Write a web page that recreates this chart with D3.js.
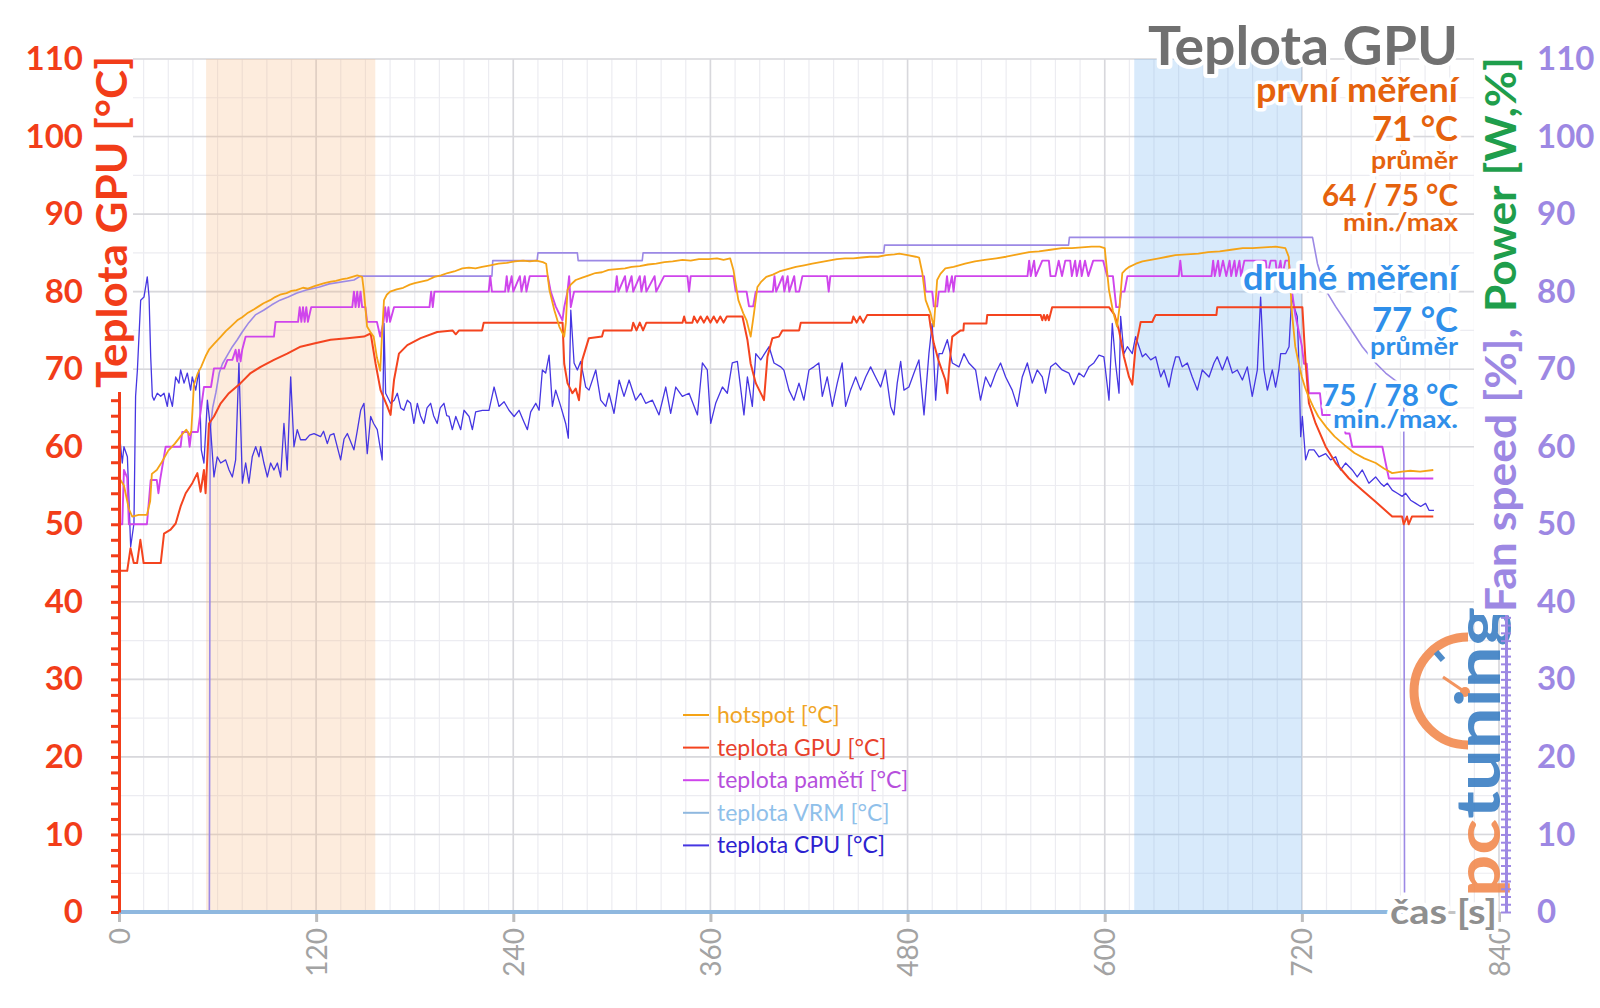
<!DOCTYPE html>
<html>
<head>
<meta charset="utf-8">
<script src="https://cdn.jsdelivr.net/npm/d3@7"></script>
<style>
body { margin: 0; background: #fff; }
svg { display: block; font-family: Lato, "Open Sans", sans-serif; }
</style>
</head>
<body>
<svg id="chart" width="1600" height="1008"></svg>
<script>
// Axis ticks
const xTicks = [0, 120, 240, 360, 480, 600, 720, 840];
const yTicks = [0, 10, 20, 30, 40, 50, 60, 70, 80, 90, 100, 110];

// Shaded measuring windows [from, to] in seconds
const firstWindow = [53, 156];
const secondWindow = [618, 720];

// Series: [time s, value]
const hotspot = [
    [0,56],[3,55],[6,52],[8,51],[12,51.2],[17,51.2],[19,53],[20,56.5],[23,57],[26,58],[30,59.5],[34,60.4],
    [38,61.5],[41,62.2],[43,61.5],[44,62],[45.6,68],[48,69.5],[50,70.3],[53,71.8],[55,72.6],[58,73.3],[62,74.2],
    [65,74.9],[68,75.5],[72,76.3],[75,76.7],[78,77.2],[82,77.7],[85,78.1],[88,78.5],[92,78.9],[95,79.3],[98,79.6],
    [102,79.8],[105,80.1],[108,80.2],[112,80.5],[115,80.4],[119,80.7],[122,80.9],[125,81.1],[129,81.3],[132,81.4],
    [136,81.6],[139,81.7],[142,81.9],[145,82.1],[148,81.9],[149,80.2],[151,75.5],[153,74.8],[155,74.2],[157,71.5],
    [159,69.8],[160,74],[161.3,78.9],[163,79.6],[165,80],[169,80.3],[173,80.5],[177,80.9],[180,81.1],[184,81.3],
    [188,81.5],[192,81.9],[196,82.1],[200,82.4],[204,82.6],[209,83],[213,83.1],[217,83],[221,83.2],[226,83.4],
    [231,83.6],[236,83.7],[241,83.9],[246,84],[250,83.9],[254,84],[258,83.8],[260,83.6],[262,80.2],[265,77.6],
    [268,75.5],[271,74.2],[272,76],[273,80.2],[275,80.9],[278,81.5],[282,81.8],[286,82.1],[290,82.4],[294,82.5],
    [298,82.8],[303,82.9],[308,83],[312,83.2],[317,83.3],[322,83.5],[327,83.6],[332,83.8],[337,83.9],[343,84.1],
    [348,84],[353,84.2],[359,84.2],[364,84.3],[368,84.1],[372,84.3],[374,82.8],[377,78.9],[380,77.2],[382,76.3],
    [384.5,74.2],[386.5,77.2],[388.6,80.6],[391,81.3],[394,81.9],[398,82.2],[402,82.6],[407,82.9],[412,83.2],
    [417,83.4],[422,83.6],[427,83.8],[432,84],[437,84.2],[442,84.3],[447,84.3],[452,84.4],[457,84.5],[462,84.5],
    [467,84.7],[472,84.8],[475,84.9],[480,84.7],[485,84.5],[487,84.4],[489,82.4],[491,78.9],[494,77.2],[496,75.5],
    [498,81.5],[500,82.3],[503,83],[508,83.2],[515,83.6],[521,83.9],[527,84.1],[534,84.3],[540,84.5],[547,84.8],
    [554,85.1],[560,85.2],[567,85.4],[574,85.6],[580,85.6],[586,85.7],[592,85.8],[597,85.8],[600,85.6],[602.6,80.2],
    [605,77.5],[607.5,75.5],[609,78],[610.7,82.4],[613,82.9],[615,83.2],[619,83.6],[623,83.9],[628,84.1],[633,84.3],
    [638,84.5],[643,84.7],[650,84.8],[657,84.9],[663,85.1],[670,85.2],[677,85.4],[684,85.6],[690,85.6],[697,85.7],
    [704,85.8],[710,85.6],[712,84.5],[714,77.2],[716,72.9],[718,70.8],[720,69],[722,67.6],[724,66.5],[727,65.1],
    [730,63.9],[735,62.5],[740,61.3],[746,60.2],[752,59.2],[758,58.5],[765,57.9],[770,57.2],[775,56.6],[781,56.8],
    [786,56.9],[792,56.8],[800,57]
];

const gpuTemp = [
    [0,44],[5,44],[7,46.9],[9,45],[11,45],[13,48],[15,45],[25.4,45],[27.4,48.8],[31.4,49.3],[34.5,50.1],[37.5,52.3],
    [40.6,54],[44.6,55.3],[47.7,56.6],[49.7,54.2],[51.7,57],[52.7,54],[54.8,63],[57.8,63.9],[61.9,65.6],[66.9,66.9],
    [74,68.2],[80.1,69.5],[86.2,70.3],[94.3,71.2],[102.4,72],[110.5,72.9],[118.7,73.3],[128.8,73.8],[139,74],
    [149.1,74.2],[153.2,74.6],[156.2,70.7],[159.2,67.3],[163.3,65.2],[165.3,64.1],[167.4,68.6],[170.4,72],
    [175.5,73.1],[183.6,74],[193.7,74.8],[203,75],[205,74.5],[207,75],[221,75],[222,76],[270,76],[271,70.7],
    [273,68.2],[276,66.9],[278,67.5],[280,66],[282,71.2],[286,74],[294,74.2],[295,75],[312,75],[313,76],[315,75],
    [317,76],[319,75],[321,76],[343,76],[344,76.8],[345,76],[349,76],[350,76.8],[352,76],[354,76.8],[356,76],
    [358,76.8],[360,76],[362,76.8],[364,76],[366,76.8],[368,76],[370,76.8],[379.5,76.8],[382.5,73.8],[384.5,70.7],
    [387.6,68.2],[391.6,66.5],[392.6,66],[394.7,71.6],[397.7,74],[401.7,74.2],[403.8,75],[414,75],[415,76],
    [446,76],[447,76.8],[449,76],[451,76.8],[453,76],[455.5,77],[493,77],[494,75.5],[496,73.3],[499,71],
    [503,68.6],[504.2,66.9],[505.2,69.9],[507.2,74.2],[512.3,75],[514,75],[514.3,75.9],[528,75.9],[528.5,77],
    [561,77],[562,76.3],[563,77],[564,76.3],[565,77],[566,76.3],[568,78],[602.6,78],[606,77],[608.7,75],
    [611.7,71.6],[614.8,69],[616.8,68],[618.8,72.9],[620.9,75],[621.9,76.1],[629,76.1],[630,76.6],[631,77],
    [668,77],[668.5,78],[720.3,78],[722.3,70.7],[724.3,65.6],[728.4,63],[734.5,60],[740.6,57.9],[748.7,55.9],
    [756.8,54.4],[764.9,52.9],[775,51],[781,51],[782,50],[784,51],[785,50],[787,51],[800,51]
];

const memTemp = [
    [0,50],[2,50],[3,57],[5,56],[6,50],[17,50],[19.3,55.7],[23,55.7],[24,54],[25,55.7],[28.4,60],[37.5,60],
    [38.5,61.9],[42,61.9],[43,60],[44,61.9],[48,61.9],[51.7,67.7],[56,67.7],[57.8,70.1],[64,70.1],[66,71.2],
    [69,71.2],[71,72.5],[72,71],[73,72.5],[74,71],[75,72.5],[77.1,74.2],[94.3,74.2],[95.3,76.1],[109,76.1],
    [110,78],[111,76.1],[112,78],[113,76.1],[114,78],[115,76.1],[117,78],[142,78],[143,80],[144,78],[145,80],
    [146,78],[147,80],[148,78],[150,78],[151,76.1],[157,76.1],[159,74.2],[161,76.1],[162,78],[163,76.1],[164,78],
    [165,76.1],[167.4,78],[189,78],[190,80],[191,78],[192,80],[225,80],[226,82],[227,80],[235,80],[236,82],
    [237,80],[239,82],[240,80],[244,82],[245,80],[247,82],[248,80],[250,82],[261,82],[262.8,80],[265.8,78.1],
    [269.9,76.3],[271,78],[273,80],[274,82],[275,78],[277,80],[302,80],[303,82],[304,80],[308,82],[309,80],
    [312,82],[313,80],[317,82],[318,80],[320,82],[321,80],[326,82],[327,80],[331.8,82],[346,82],[347,80],
    [348,82],[374,82],[375.4,80],[382,80],[383.5,78.1],[386,78.1],[387.6,80],[398,80],[399,82],[400,80],
    [404,82],[405,80],[407,82],[408,80],[411,82],[412,80],[414,80],[416,82],[431,82],[432,80],[433,82],[490,82],
    [491,80],[495,80],[496,78.1],[498,78.1],[499,80],[503,80],[504,82],[505,80],[507,82],[508,80],[509,82],
    [553,82],[554,84],[555,82],[557,84],[558,82],[562,84],[566,84],[567,82],[570,82],[572,84],[574,82],[576,84],
    [579,84],[580,82],[582,84],[583,82],[585,84],[586,82],[588,84],[590,82],[593,84],[599,84],[601.5,82],
    [605,82],[606,80],[607,78],[609,78],[610,80],[612,80],[613.8,82],[645,82],[646,84],[647,82],[665,82],
    [666,84],[667,82],[669,84],[670,82],[672,84],[674,82],[676,84],[677,82],[679,84],[680,82],[682,84],[683,82],
    [685,84],[698,84],[699,82],[701,84],[704,84],[705,82],[707,84],[708,82],[710,84],[712,84],[713,82],[714,80],
    [716,77],[718,75],[720,73],[721.3,70.7],[723,70.7],[724.3,66.9],[731,66.9],[732.4,64.1],[744,64.1],
    [746.6,61.7],[749,61.7],[750.7,60],[769,60],[771,57.9],[773,55.9],[800,55.9]
];

const vrmTemp = [[0,0],[800,0]];

const cpuTemp = [
    [0,62.2],[2,57.9],[3,60],[5.1,58.7],[7.1,47.1],[9.1,50.1],[10.1,66.5],[11.2,69.9],[13.2,78.9],[15.2,79.3],
    [17.2,81.9],[18.3,79.3],[19.3,71.6],[20.3,66.5],[21.3,66],[23.3,66.9],[25.4,66.5],[27.4,66.9],[29.4,65.2],
    [30.4,66.9],[32.5,65.2],[34.5,69],[36.5,68.2],[37.5,69.9],[39.6,68.2],[41.6,69.5],[43.6,67.3],[44.6,69],
    [46.7,67.3],[48.7,69.9],[50.1,59.6],[51.7,57.9],[53.8,66],[55.8,62.2],[57.8,56.1],[59.8,58.7],[61.9,57.9],
    [64.9,58.3],[67,57],[69,56.1],[71,58.3],[73,70.8],[75.1,55.3],[77.1,57.9],[79.1,55.3],[81.1,58.7],[83.2,60],
    [85.2,58.7],[86.2,60],[88.2,57.9],[90.3,56.1],[92.3,57.9],[94.3,57],[96.4,57.9],[98.4,56.1],[100.4,63],
    [102.4,57],[104.5,69],[106.5,60],[108.5,62.2],[110.5,60.9],[113.6,60.9],[116,61.5],[118.7,61.7],[122.7,61.3],
    [124.5,62],[126.8,60.4],[128.5,61.5],[130.8,61.7],[134.9,58.3],[137,61],[139,61.7],[143,59.6],[145,62],
    [147.1,64.7],[149.1,65.6],[151.1,59.1],[153.2,63.9],[155,63],[157.2,62.2],[160.2,58.3],[161.3,75.9],
    [162.3,66.9],[165.3,65.6],[167.5,66],[169.4,66.9],[171.5,65],[173.4,64.7],[175.5,66],[177.5,65.6],[179.5,63],
    [181.6,65.6],[183.5,64],[185.6,63],[187.5,65],[189.7,65.6],[191.5,64],[193.7,63],[195.5,65],[197.8,65.6],
    [199.5,64],[200.9,63.9],[202.9,62.2],[205,63.9],[208,62.2],[210,64.7],[213.1,63.9],[215.1,62.2],[217.1,64.5],
    [221.2,64.7],[225.2,64.7],[228.3,67.7],[231.3,65.2],[234.4,65.8],[237.4,64.7],[240.5,63.9],[243.5,64.7],
    [246.5,63.2],[248.6,62.2],[250.6,64.5],[253.7,65.6],[255.7,64.7],[257.7,69.9],[259.7,69.5],[261.8,71.8],
    [263.8,65.2],[265.8,67.3],[268.9,65.2],[271.9,63],[273.5,61.1],[275,77.6],[277,70.8],[279,69.9],[281,71],
    [284.1,67.7],[286.1,67.3],[290.2,69.9],[293.2,66],[296.3,65.2],[298.3,66.9],[301.3,64.3],[304.4,68.6],
    [307.4,66.5],[310.5,68.6],[314.5,66],[317.6,66.9],[320.6,65.6],[324.7,66],[328.7,64.1],[332.8,67.7],
    [335.8,64.3],[338.9,67.7],[342.9,66.5],[347,66.9],[352.1,64.1],[355.1,70.8],[358.1,69.9],[360.2,63],
    [363.2,65.6],[367.3,67.7],[370.3,66.9],[373.3,70.8],[376.4,71],[380.4,64.1],[382.5,69],[385.5,65.2],
    [387.6,72],[390.6,71.2],[395.7,72.9],[398.7,70.8],[402.8,70.3],[404.7,69.9],[407.8,67.3],[410.8,66],
    [413.9,68.2],[416.9,66],[420,69.9],[423,70.3],[426,70.8],[428.1,66.5],[431.1,69],[434.2,65.2],[437.2,68.2],
    [440.2,70.8],[442.3,65.2],[445.3,67.3],[448.4,69],[451.4,67.3],[454.5,69],[457.5,70.3],[460.5,69],
    [463.6,67.7],[466.6,69.9],[469.7,65.2],[471.7,64.1],[473.7,68.2],[475.8,71],[477.8,67.3],[480.8,67.7],
    [483.9,69.5],[486.9,71.2],[490,64.1],[493,72],[495,75.9],[497.1,66],[499.1,72],[501.1,72],[504.2,73.8],
    [507.2,70.8],[511.3,70.3],[514.3,72],[517.3,70.8],[521.4,69.9],[524.4,66],[527.5,69],[530.5,67.7],
    [533.6,69.5],[536.6,70.8],[539.7,69],[543.7,67.3],[546.8,65.2],[549.8,69],[552.9,70.8],[555.9,68.2],
    [558.9,69.9],[562,69],[564,66.9],[567.1,70.3],[570.1,70.8],[574.1,69.9],[578.2,69.5],[581.2,68],[584.3,69.5],
    [587.3,69],[590.4,70.3],[593.4,70.8],[596.5,71.8],[599.5,71.6],[602.6,66],[604.6,75.9],[606.6,70.8],
    [608.7,66.9],[609.7,76.8],[611.7,72],[613.8,72.9],[616.8,72],[618.8,74.2],[620.9,72.9],[622.9,71.6],
    [624.9,72],[628,71.2],[631,71.6],[634.1,69],[636.1,69.9],[639.1,67.7],[641.1,69.9],[643.2,71.6],[645.2,71.6],
    [647.2,70.3],[650.3,70.8],[653.3,69],[656.4,67.3],[659.4,69.9],[663.5,69],[666.5,70.8],[668.5,71.6],
    [671.6,69.9],[674.6,71.6],[677.7,69.5],[680.7,69.9],[683.8,68.6],[686.8,70.3],[689.8,66.5],[692.9,69.9],
    [694.9,79.3],[696.9,69.9],[699,67.3],[702,69.9],[704,67.7],[706,69.9],[707.1,72],[710.1,72],[712.2,72.9],
    [713.8,79.3],[715.2,78.1],[717.2,76.8],[718.2,70.8],[719.3,61.3],[720.3,63.9],[722.3,58.3],[724.3,59.6],
    [727.4,59.6],[730.4,58.7],[734.5,59.1],[737.5,58.3],[740.6,58.7],[743.6,57],[746.6,57.9],[750.7,57],
    [753.7,56.1],[756.8,57],[760.8,55.3],[764.9,56.1],[767.9,55.3],[770,54.9],[772,55.3],[775,54.4],[778.1,54],
    [781.1,53.6],[783.2,54],[786.2,53.1],[789.3,52.7],[792.3,52.3],[795.3,52.7],[797.4,51.8],[800.4,51.8]
];

const fanSpeed = [
    [0,0],[55,0],[55.5,62],[57,65],[59,67],[61,69.5],[63,70.7],[66,71.8],[69,72.9],[72,73.8],[75,74.8],[79,76],
    [83,77],[88,77.6],[93,78.3],[98,78.9],[103,79.3],[108,79.8],[114,80.2],[122,80.6],[128,81],[143,81.5],
    [147,82],[227,82],[227.5,84],[254.5,84],[255,85],[279,85],[279.5,84],[318.5,84],[319,85],[465.5,85],
    [466,86],[578,86],[578.5,87],[726.5,87],[729.5,83.6],[734.5,80.2],[740.5,78.1],[748.7,75.5],[756.8,72.9],
    [764.9,70.8],[771,69.5],[779,68.2],[782,67.7],[782.5,2.5]
];

// Texts
const legendNames = ["hotspot [°C]", "teplota GPU [°C]", "teplota pamětí [°C]", "teplota VRM [°C]", "teplota CPU [°C]"];
const chartTitle = "Teplota GPU";
const firstRun = ["první měření", "71 °C", "průměr", "64 / 75 °C", "min./max"];
const secondRun = ["druhé měření", "77 °C", "průměr", "75 / 78 °C", "min./max."];

// Colours
const HOTSPOT = '#f5a316';
const GPU = '#f4441f';
const MEM = '#cf45ec';
const VRM = '#8fb8df';
const CPU = '#4636e2';
const FAN = '#9c89e5';
const RED_AXIS = '#f23d19';
const PURPLE_AXIS = '#9d88e3';
const GREEN = '#1f9e4c';

const svg = d3.select('svg#chart');

const x = d3.scaleLinear().domain([0, 840]).range([119, 1499]);
const y = d3.scaleLinear().domain([0, 110]).range([912, 59]);

function halo(sel, w) {
    return sel.attr('stroke', '#fff').attr('stroke-width', w)
        .attr('stroke-linejoin', 'round').attr('paint-order', 'stroke');
}

// Grid
const grid = svg.append('g');
grid.selectAll('line.vmin').data(d3.range(0, 841, 15)).enter().append('line')
    .attr('x1', d => x(d)).attr('x2', d => x(d)).attr('y1', y(0)).attr('y2', y(110))
    .attr('stroke', '#ececf1').attr('stroke-width', 1.2);
grid.selectAll('line.hmin').data(d3.range(0, 111, 5)).enter().append('line')
    .attr('x1', x(0)).attr('x2', x(840)).attr('y1', d => y(d)).attr('y2', d => y(d))
    .attr('stroke', '#ececf1').attr('stroke-width', 1.2);
grid.selectAll('line.vmaj').data(xTicks).enter().append('line')
    .attr('x1', d => x(d)).attr('x2', d => x(d)).attr('y1', y(0)).attr('y2', y(110))
    .attr('stroke', '#d8d8dc').attr('stroke-width', 1.6);
grid.selectAll('line.hmaj').data(yTicks).enter().append('line')
    .attr('x1', x(0)).attr('x2', x(840)).attr('y1', d => y(d)).attr('y2', d => y(d))
    .attr('stroke', '#d8d8dc').attr('stroke-width', 1.6);

// Measuring windows
svg.append('rect').attr('x', x(firstWindow[0])).attr('width', x(firstWindow[1]) - x(firstWindow[0]))
    .attr('y', y(110)).attr('height', y(0) - y(110)).attr('fill', 'rgba(248,180,120,0.25)');
svg.append('rect').attr('x', x(secondWindow[0])).attr('width', x(secondWindow[1]) - x(secondWindow[0]))
    .attr('y', y(110)).attr('height', y(0) - y(110)).attr('fill', 'rgba(100,170,240,0.25)');

// X axis
const xAxis = svg.append('g').attr('transform', `translate(0,${y(0)})`)
    .call(d3.axisBottom(x).tickValues(xTicks).tickSize(10).tickSizeOuter(0));
xAxis.select('.domain').attr('stroke', '#c4c4c4').attr('stroke-width', 3);
xAxis.selectAll('.tick line').attr('stroke', '#bdbdbd').attr('stroke-width', 3);
xAxis.selectAll('.tick text')
    .attr('transform', 'rotate(-90)').attr('text-anchor', 'end')
    .attr('x', -16).attr('y', 0).attr('dy', '0.36em')
    .attr('fill', '#a3a3a3').style('font-size', '28px').style('font-family', 'Lato');

// Series
const line = d3.line().x(d => x(d[0])).y(d => y(d[1]));
const series = [
    {data: fanSpeed, color: FAN, w: 1.6},
    {data: cpuTemp, color: CPU, w: 1.3},
    {data: memTemp, color: MEM, w: 1.9},
    {data: gpuTemp, color: GPU, w: 2},
    {data: hotspot, color: HOTSPOT, w: 1.8},
    {data: vrmTemp, color: VRM, w: 4}
];
svg.append('g').selectAll('path').data(series).enter().append('path')
    .attr('d', d => line(d.data)).attr('fill', 'none')
    .attr('stroke', d => d.color).attr('stroke-width', d => d.w)
    .attr('stroke-linejoin', 'round');

// Left axis
const leftAxis = svg.append('g').attr('transform', `translate(${x(0)},0)`);
leftAxis.call(d3.axisLeft(y).tickValues(d3.range(0, 111, 2)).tickSize(8).tickFormat('').tickSizeOuter(0));
leftAxis.select('.domain').attr('stroke', RED_AXIS).attr('stroke-width', 3);
leftAxis.selectAll('.tick line').attr('stroke', RED_AXIS).attr('stroke-width', 3);
const leftLabels = svg.append('g').attr('transform', `translate(${x(0)},0)`)
    .call(d3.axisLeft(y).tickValues(yTicks).tickSize(0).tickPadding(36));
leftLabels.select('.domain').remove();
leftLabels.selectAll('text').attr('fill', RED_AXIS)
    .style('font-size', '33px').style('font-weight', 700).style('font-family', 'Lato');

// Right axis
const rightAxis = svg.append('g').attr('transform', 'translate(1506,0)');
rightAxis.call(d3.axisRight(y).tickValues(d3.range(0, 111, 1)).tickSize(5).tickFormat('').tickSizeOuter(0));
rightAxis.select('.domain').attr('stroke', PURPLE_AXIS).attr('stroke-width', 3);
rightAxis.selectAll('.tick line').attr('stroke', PURPLE_AXIS).attr('stroke-width', 2)
    .attr('x1', -5);
const rightLabels = svg.append('g').attr('transform', 'translate(1506,0)')
    .call(d3.axisRight(y).tickValues(yTicks).tickSize(0).tickPadding(31));
rightLabels.select('.domain').remove();
rightLabels.selectAll('text').attr('fill', PURPLE_AXIS)
    .style('font-size', '33px').style('font-weight', 700).style('font-family', 'Lato');

// Logo
const logo = svg.append('g').attr('opacity', 0.9);
logo.append('path').attr('d', 'M1468,637 A54,54 0 0 0 1468,745')
    .attr('fill', 'none').attr('stroke', '#f28a4f').attr('stroke-width', 9);
logo.append('line').attr('x1', 1436).attr('y1', 652).attr('x2', 1443).attr('y2', 660)
    .attr('stroke', '#3b7fc4').attr('stroke-width', 6);
logo.append('line').attr('x1', 1443).attr('y1', 677).attr('x2', 1465).attr('y2', 692)
    .attr('stroke', '#f28a4f').attr('stroke-width', 3);
logo.append('circle').attr('cx', 1465).attr('cy', 692).attr('r', 5).attr('fill', '#f28a4f');
const logoText = logo.append('text').attr('transform', 'translate(1500,897) rotate(-90)')
    .style('font-size', '62px').style('font-weight', 700)
    .attr('textLength', 290).attr('lengthAdjust', 'spacingAndGlyphs');
logoText.append('tspan').attr('fill', '#f28a4f').text('pc');
logoText.append('tspan').attr('fill', '#3b7fc4').text('tuning');
rightAxis.raise();

// Axis titles on white boxes
svg.append('rect').attr('x', 93).attr('y', 53).attr('width', 40).attr('height', 339).attr('fill', '#fff');
svg.append('text').attr('transform', 'translate(127,388) rotate(-90)')
    .attr('fill', RED_AXIS).style('font-size', '42px').style('font-weight', 700)
    .attr('textLength', 332).attr('lengthAdjust', 'spacingAndGlyphs')
    .text('Teplota GPU [°C]');
svg.append('rect').attr('x', 1474).attr('y', 53).attr('width', 48).attr('height', 562).attr('fill', '#fff');
svg.append('text').attr('transform', 'translate(1516,612) rotate(-90)')
    .attr('fill', PURPLE_AXIS).style('font-size', '42px').style('font-weight', 700)
    .attr('textLength', 284).attr('lengthAdjust', 'spacingAndGlyphs')
    .text('Fan speed [%],');
svg.append('text').attr('transform', 'translate(1516,312) rotate(-90)')
    .attr('fill', GREEN).style('font-size', '42px').style('font-weight', 700)
    .attr('textLength', 255).attr('lengthAdjust', 'spacingAndGlyphs')
    .text('Power [W,%]');

// x-axis name
svg.append('text').attr('x', 1497).attr('y', 924).attr('text-anchor', 'end')
    .attr('fill', '#8f8f8f').style('font-size', '35px').style('font-weight', 700)
    .attr('textLength', 107).attr('lengthAdjust', 'spacingAndGlyphs')
    .text('čas [s]').call(halo, 8);

// Legend
const legendColors = [HOTSPOT, GPU, MEM, VRM, CPU];
const legendTextColors = ['#f0a424', '#e8412c', '#b64fdc', '#8fc0ea', '#2c22d0'];
const legend = svg.append('g').attr('transform', 'translate(683,715)');
legendNames.forEach((name, i) => {
    const row = legend.append('g').attr('transform', `translate(0,${i * 32.6})`);
    row.append('line').attr('x1', 0).attr('x2', 26).attr('stroke', legendColors[i]).attr('stroke-width', 2);
    row.append('text').attr('x', 34).attr('dy', '0.35em').attr('fill', legendTextColors[i])
        .style('font-size', '23px').text(name);
});

// Title and notes
svg.append('text').attr('x', 1458).attr('y', 65).attr('text-anchor', 'end')
    .attr('fill', '#707070').style('font-size', '54px').style('font-weight', 700)
    .attr('textLength', 310).attr('lengthAdjust', 'spacingAndGlyphs')
    .text(chartTitle).call(halo, 8);

const noteSizes = [34, 35, 24, 30, 24];
const firstBase = [102, 141, 169, 206, 231];
const firstLen = [202, 86, 87, 136, 115];
const secondBase = [290, 332, 355, 406, 428];
const secondLen = [215, 86, 88, 136, 125];

function notes(lines, base, lens, color) {
    lines.forEach((t, i) => {
        svg.append('text').attr('x', 1458).attr('y', base[i]).attr('text-anchor', 'end')
            .attr('fill', color).style('font-size', noteSizes[i] + 'px').style('font-weight', 700)
            .attr('textLength', lens[i]).attr('lengthAdjust', 'spacingAndGlyphs')
            .text(t).call(halo, 7);
    });
}
notes(firstRun, firstBase, firstLen, '#e5620d');
notes(secondRun, secondBase, secondLen, '#2f8fea');
</script>
</body>
</html>
